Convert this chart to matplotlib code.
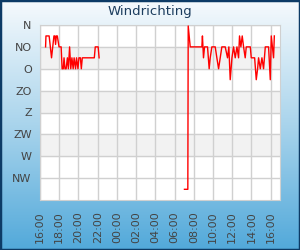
import numpy as np
import matplotlib
matplotlib.use("Agg")
import matplotlib.pyplot as plt
from matplotlib.colors import LinearSegmentedColormap

# hours since 16:00 (day 1) and wind direction in degrees
seg1_hours = [0.58, 0.62, 0.95, 1.20, 1.45, 1.55, 1.62, 1.70, 1.80, 1.98, 2.20,
              2.30, 2.42, 2.50, 2.60, 2.72, 2.85, 2.95, 3.08, 3.20, 3.32, 3.45,
              3.55, 3.70, 3.80, 3.95, 4.05, 4.20, 4.30, 4.40, 5.65, 5.75, 6.05, 6.15]
seg1_deg = [45, 22.5, 22.5, 67.5, 22.5, 22.5, 40, 22.5, 22.5, 45, 45,
            90, 90, 67.5, 90, 90, 67.5, 90, 45, 90, 67.5, 90,
            67.5, 90, 67.5, 90, 67.5, 67.5, 90, 67.5, 67.5, 45, 45, 67.5]

seg2_hours = [15.03, 15.38, 15.42, 15.63, 16.84, 16.90, 17.01, 17.12, 17.43, 17.60,
              17.71, 17.88, 18.23, 18.40, 18.58, 18.75, 18.92, 19.27, 19.51, 19.65,
              19.79, 19.97, 20.14, 20.31, 20.49, 20.66, 20.76, 20.90, 21.04, 21.18,
              21.35, 21.46, 21.88, 21.98, 22.33, 22.50, 22.64, 22.74, 22.92, 23.09,
              23.26, 23.44, 23.78, 23.96, 24.06, 24.30, 24.38]
seg2_deg = [338, 338, 2, 45, 45, 22.5, 67.5, 45, 45, 90,
            67.5, 45, 45, 67.5, 90, 67.5, 45, 45, 67.5, 45,
            112.5, 67.5, 45, 67.5, 45, 67.5, 22.5, 45, 22.5, 45,
            67.5, 45, 45, 67.5, 67.5, 112.5, 90, 67.5, 90, 67.5,
            90, 45, 45, 112.5, 22.5, 67.5, 22.5]

dir_ticks = [0, 45, 90, 135, 180, 225, 270, 315]
dir_labels = ["N", "NO", "O", "ZO", "Z", "ZW", "W", "NW"]
time_ticks = list(range(0, 25, 2))
time_labels = ["16:00", "18:00", "20:00", "22:00", "00:00", "02:00", "04:00",
               "06:00", "08:00", "10:00", "12:00", "14:00", "16:00"]

fig = plt.figure(figsize=(3, 2.5), dpi=100)

# background gradient + border
bg = fig.add_axes([0, 0, 1, 1], zorder=-10)
grad = np.linspace(0, 1, 256).reshape(-1, 1)
cmap = LinearSegmentedColormap.from_list("bg", ["#52a9da", "#a9d4ec", "#f6fafd"])
bg.imshow(grad, aspect="auto", cmap=cmap, extent=[0, 1, 0, 1])
bg.set_xlim(0, 1)
bg.set_ylim(1, 0)
bg.axis("off")
fig.patches.append(plt.Rectangle((0, 0), 1, 1, transform=fig.transFigure,
                                 fill=False, edgecolor="#0d3b66", linewidth=2.5))

ax = fig.add_axes([40 / 300, 50 / 250, 240 / 300, 175 / 250])
ax.set_facecolor("white")
for lo in [45, 135, 225]:
    ax.axhspan(lo, lo + 45, color="#f2f2f2", zorder=0)

ax.plot(seg1_hours, seg1_deg, color="red", linewidth=1, zorder=3)
ax.plot(seg2_hours, seg2_deg, color="red", linewidth=1, zorder=3)

ax.set_xlim(0, 24.97)
ax.set_ylim(360, 0)
ax.set_yticks(dir_ticks)
ax.set_yticklabels(dir_labels)
ax.set_xticks(time_ticks)
ax.set_xticklabels(time_labels, rotation=90)
ax.grid(color="#d0d0d0", linewidth=1, zorder=1)
ax.set_axisbelow(True)
ax.tick_params(length=0, labelsize=8, labelcolor="#444444", pad=6)
ax.tick_params(axis="x", pad=8)
for s in ax.spines.values():
    s.set_color("#d0d0d0")

fig.text(0.5, 1 - 11 / 250, "Windrichting", ha="center", va="center",
         fontsize=9.5, color="#1c3d5e")

fig.savefig("out.png", dpi=100)
